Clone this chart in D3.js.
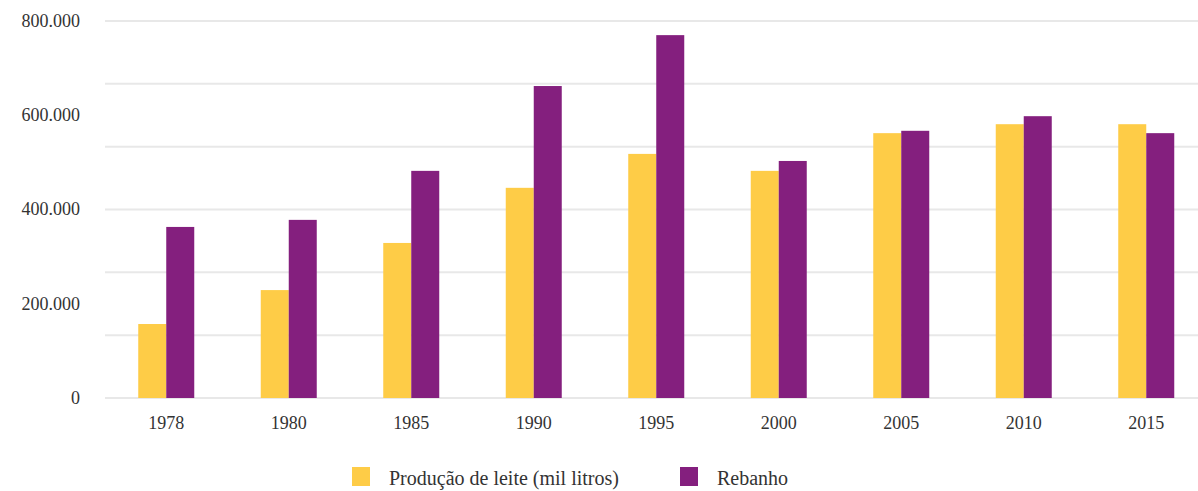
<!DOCTYPE html>
<html>
<head>
<meta charset="utf-8">
<script src="https://cdn.jsdelivr.net/npm/d3@7"></script>
<style>
  body { margin: 0; background: #fff; }
  svg { display: block; font-family: "Liberation Serif", "DejaVu Serif", serif; }
  .tick-label { fill: #333; font-size: 18px; }
  .legend-label { fill: #333; font-size: 20px; }
</style>
</head>
<body>
<div id="chart"></div>
<script>
// data
const years = ["1978", "1980", "1985", "1990", "1995", "2000", "2005", "2010", "2015"];
const producao = [157000, 229000, 329000, 446000, 518000, 482000, 562000, 581000, 581000];
const rebanho = [363000, 378000, 482000, 662000, 770000, 503000, 567000, 598000, 562000];
const seriesNames = ["Produção de leite (mil litros)", "Rebanho"];
const yTicks = [0, 200000, 400000, 600000, 800000];

//size
const width = 1198;
const height = 491;
const margin = { top: 21, right: 0, bottom: 93, left: 105 };

const colors = ["#FECC47", "#841F7E"];

//scale
const x = d3.scaleBand().domain(years).range([margin.left, margin.left + 9 * 122.5]).padding(0);
const y = d3.scaleLinear().domain([0, 800000]).range([height - margin.bottom, margin.top]);
const barW = 28;

const svg = d3.select("#chart").append("svg")
  .attr("width", width).attr("height", height);

//grid (6 divisions)
svg.append("g").selectAll("line")
  .data(d3.range(7).map((i) => (800000 / 6) * i))
  .join("line")
  .attr("x1", margin.left).attr("x2", width)
  .attr("y1", (d) => y(d)).attr("y2", (d) => y(d))
  .attr("stroke", "#e8e8e8").attr("stroke-width", 2);

//y labels
svg.append("g").selectAll("text")
  .data(yTicks)
  .join("text")
  .attr("class", "tick-label")
  .attr("x", 80).attr("y", (d) => y(d))
  .attr("dy", "0.32em")
  .attr("text-anchor", "end")
  .text((d) => d3.format(",")(d).replace(/,/g, "."));

//bars
const series = [producao, rebanho];
series.forEach((vals, si) => {
  svg.append("g").selectAll("rect")
    .data(years.map((yr, i) => ({ yr, v: vals[i] })))
    .join("rect")
    .attr("x", (d) => x(d.yr) + x.bandwidth() / 2 - barW + si * barW)
    .attr("width", barW)
    .attr("y", (d) => y(d.v))
    .attr("height", (d) => y(0) - y(d.v))
    .attr("fill", colors[si]);
});

//x labels
svg.append("g").selectAll("text")
  .data(years)
  .join("text")
  .attr("class", "tick-label")
  .attr("x", (d) => x(d) + x.bandwidth() / 2)
  .attr("y", 429)
  .attr("text-anchor", "middle")
  .text((d) => d);

//legend
const legendX = [352, 680];
const legend = svg.append("g").selectAll("g")
  .data(seriesNames)
  .join("g")
  .attr("transform", (d, i) => `translate(${legendX[i]},467)`);
legend.append("rect").attr("width", 18).attr("height", 19).attr("fill", (d, i) => colors[i]);
legend.append("text").attr("class", "legend-label")
  .attr("x", 37).attr("y", 18)
  .text((d) => d);
</script>
</body>
</html>
